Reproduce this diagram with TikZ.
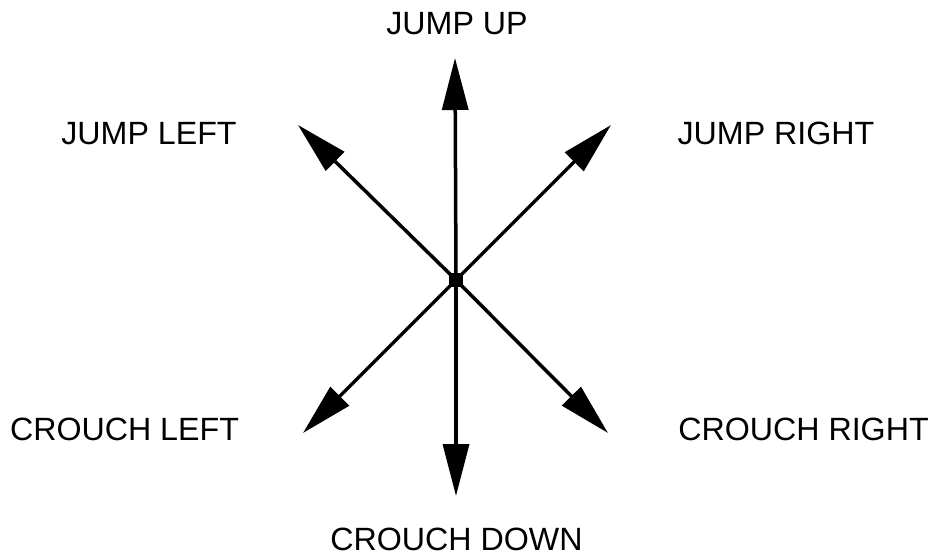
\documentclass[tikz,border=0pt]{standalone}
\usepackage{fontspec}
\setmainfont{Liberation Sans}
\usetikzlibrary{arrows.meta}
\begin{document}
\begin{tikzpicture}[x=1pt,y=-1pt,
  lbl/.style={anchor=base,inner sep=0pt,font=\fontsize{32.2}{38}\selectfont},
  arr/.style={line width=3.5pt,-{Triangle[length=52pt,width=26pt]}},
  hub/.style={fill=black,minimum size=14pt,inner sep=0pt}]
\useasboundingbox (0,0) rectangle (932,557);
\node[hub] (c) at (456,280) {};
\coordinate (up) at (455,58);
\coordinate (dn) at (456,496);
\coordinate (jl) at (298,125);
\coordinate (jr) at (611,125);
\coordinate (cl) at (303,433);
\coordinate (cr) at (608,433);
\draw[arr] (c.center) -- (up);
\draw[arr] (c.center) -- (dn);
\draw[arr] (c.center) -- (jl);
\draw[arr] (c.center) -- (jr);
\draw[arr] (c.center) -- (cl);
\draw[arr] (c.center) -- (cr);
\node[lbl] (tup) at (457,34) {JUMP UP};
\node[lbl] (tjl) at (149,144) {JUMP LEFT};
\node[lbl] (tjr) at (776,144) {JUMP RIGHT};
\node[lbl] (tcl) at (124.5,440) {CROUCH LEFT};
\node[lbl] (tcr) at (803.5,440) {CROUCH RIGHT};
\node[lbl] (tcd) at (456.5,550) {CROUCH DOWN};
\end{tikzpicture}
\end{document}
